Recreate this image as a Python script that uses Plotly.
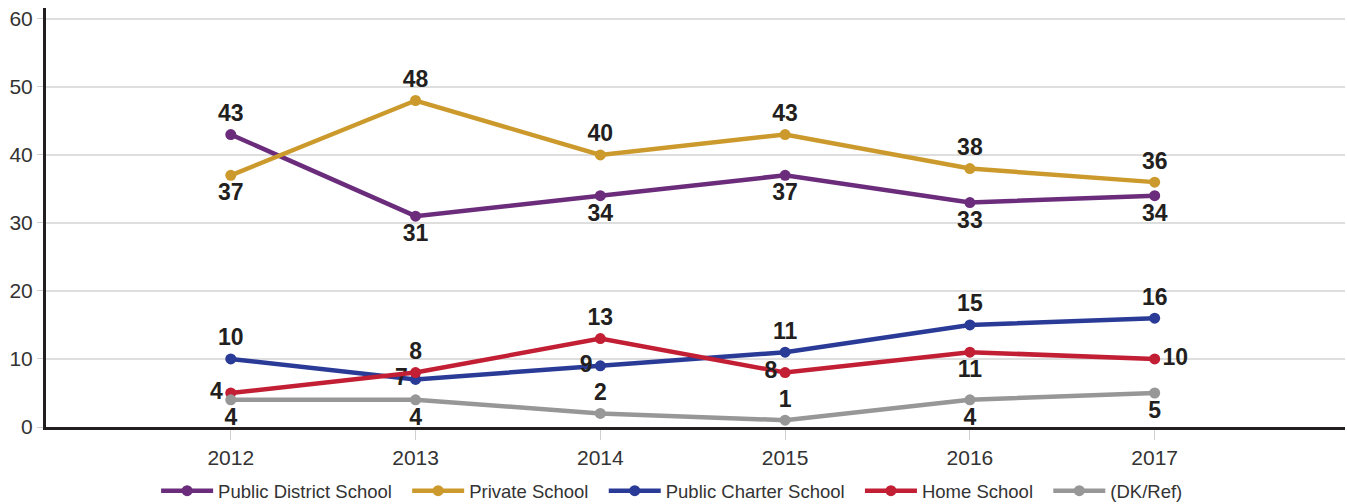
import plotly.graph_objects as go

years = [2012, 2013, 2014, 2015, 2016, 2017]

public_district = [43, 31, 34, 37, 33, 34]
private_school = [37, 48, 40, 43, 38, 36]
public_charter = [10, 7, 9, 11, 15, 16]
home_school = [5, 8, 13, 8, 11, 10]
home_school_labels = ["4", "8", "13", "8", "11", "10"]
dk_ref = [4, 4, 2, 1, 4, 5]

series = [
    ("Public District School", public_district, None, "#6B2C7C",
     ["top center", "bottom center", "bottom center", "bottom center", "bottom center", "bottom center"]),
    ("Private School", private_school, None, "#CC9A2C",
     ["bottom center", "top center", "top center", "top center", "top center", "top center"]),
    ("Public Charter School", public_charter, None, "#2A3B97",
     ["top center", "middle left", "middle left", "top center", "top center", "top center"]),
    ("Home School", home_school, home_school_labels, "#C21F35",
     ["middle left", "top center", "top center", "middle left", "bottom center", "middle right"]),
    ("(DK/Ref)", dk_ref, None, "#979797",
     ["bottom center", "bottom center", "top center", "top center", "bottom center", "bottom center"]),
]

pad = "\u00a0\u00a0"  # a bit more room between legend entries

fig = go.Figure()
for i, (name, vals, labels, color, pos) in enumerate(series):
    fig.add_trace(go.Scatter(
        x=years, y=vals, mode="lines+markers+text",
        name=name + (pad if i < len(series) - 1 else ""),
        text=labels if labels else [str(v) for v in vals],
        textposition=pos,
        textfont=dict(family="Liberation Sans", size=23, color="#231F20", weight="bold"),
        line=dict(color=color, width=4.5),
        marker=dict(color=color, size=11),
        cliponaxis=False,
    ))

fig.update_xaxes(
    range=[2011, 2018.03], tickvals=years, ticktext=[str(y) for y in years],
    showgrid=False, zeroline=False, showline=True, linecolor="#231F20", linewidth=3,
    ticks="outside", ticklen=10, tickcolor="#d0d0d0", tickwidth=1,
    tickfont=dict(family="Liberation Sans", size=21, color="#333333"),
    automargin=False,
)
fig.update_yaxes(
    range=[0, 61.6], tickvals=[0, 10, 20, 30, 40, 50, 60],
    showgrid=True, gridcolor="#dedede", gridwidth=1.5, zeroline=False,
    showline=True, linecolor="#231F20", linewidth=3,
    ticks="outside", ticklen=6, tickcolor="#d0d0d0",
    tickfont=dict(family="Liberation Sans", size=21, color="#333333"),
    automargin=False,
)
fig.update_layout(
    width=1347, height=504, plot_bgcolor="white", paper_bgcolor="white",
    margin=dict(l=46, r=2, t=8, b=77, autoexpand=False),
    legend=dict(
        orientation="h", x=0.482, xanchor="center",
        y=-0.153, yanchor="middle",
        font=dict(family="Liberation Sans", size=18.5, color="#333333"),
        itemwidth=52, traceorder="normal",
    ),
)

# the page's default body margin would shift the figure by 8px
fig.write_html("out.html", config={"displayModeBar": False},
               post_script="document.body.style.margin='0';")
